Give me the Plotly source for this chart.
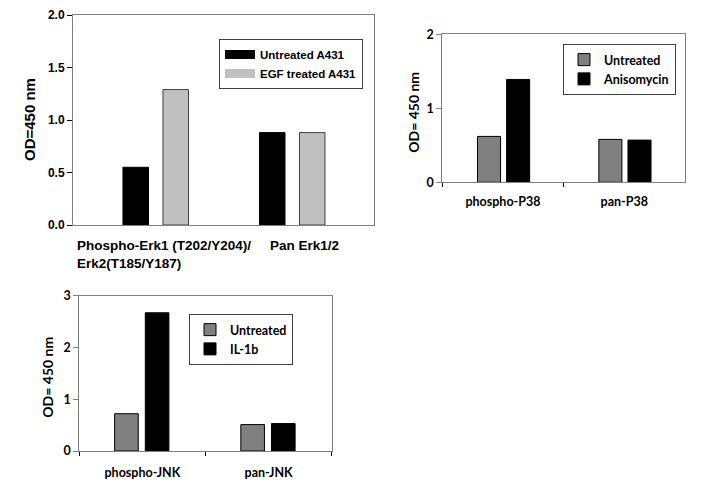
import plotly.graph_objects as go

W, H = 701, 495

# Erk1/2 panel
erk_cats = ["Phospho-Erk1", "Pan Erk1/2"]
erk_labels = ["Phospho-Erk1 (T202/Y204)/<br>Erk2(T185/Y187)", "Pan Erk1/2"]
erk_untreated = [0.55, 0.88]
erk_egf = [1.29, 0.88]

# P38 panel
p38_cats = ["phospho-P38", "pan-P38"]
p38_untreated = [0.62, 0.58]
p38_aniso = [1.39, 0.57]

# JNK panel
jnk_cats = ["phospho-JNK", "pan-JNK"]
jnk_untreated = [0.72, 0.51]
jnk_il1b = [2.67, 0.53]

ARIAL = "Liberation Sans"
CALIBRI = "Lato"


def px_x(v):
    return v / W


def px_y(v):
    return 1 - v / H


fig = go.Figure()

# ---- panel 1 (Arial look) ----
fig.add_trace(go.Bar(x=erk_cats, y=erk_untreated, xaxis="x", yaxis="y",
                     marker=dict(color="black", line=dict(color="black", width=1)),
                     width=0.187, offset=-0.242, showlegend=False))
fig.add_trace(go.Bar(x=erk_cats, y=erk_egf, xaxis="x", yaxis="y",
                     marker=dict(color="#c0c0c0", line=dict(color="#404040", width=1)),
                     width=0.187, offset=0.051, showlegend=False))
# wide swatches for the legend, like the original
fig.add_trace(go.Scatter(x=[None], y=[None], mode="lines", name="Untreated A431",
                         line=dict(color="black", width=9), legend="legend"))
fig.add_trace(go.Scatter(x=[None], y=[None], mode="lines", name="EGF treated A431",
                         line=dict(color="#c0c0c0", width=9), legend="legend"))

# ---- panel 2 ----
fig.add_trace(go.Bar(x=p38_cats, y=p38_untreated, xaxis="x2", yaxis="y2", name="Untreated",
                     marker=dict(color="#808080", line=dict(color="black", width=1)),
                     width=0.19, offset=-0.21, legend="legend2"))
fig.add_trace(go.Bar(x=p38_cats, y=p38_aniso, xaxis="x2", yaxis="y2", name="Anisomycin",
                     marker=dict(color="black", line=dict(color="black", width=1)),
                     width=0.19, offset=0.03, legend="legend2"))

# ---- panel 3 ----
fig.add_trace(go.Bar(x=jnk_cats, y=jnk_untreated, xaxis="x3", yaxis="y3", name="Untreated",
                     marker=dict(color="#808080", line=dict(color="black", width=1)),
                     width=0.187, offset=-0.22, legend="legend3"))
fig.add_trace(go.Bar(x=jnk_cats, y=jnk_il1b, xaxis="x3", yaxis="y3", name="IL-1b",
                     marker=dict(color="black", line=dict(color="black", width=1)),
                     width=0.187, offset=0.023, legend="legend3"))

axcol = "#808080"
f1 = dict(family=ARIAL, size=12, color="black", weight="bold")
f2 = dict(family=CALIBRI, size=12.5, color="black", weight="bold")

fig.update_layout(
    width=W, height=H,
    margin=dict(l=0, r=0, t=0, b=0, autoexpand=False),
    paper_bgcolor="white", plot_bgcolor="white",
    barmode="group",
    xaxis=dict(domain=[px_x(73), px_x(374)], range=[-0.608, 1.597],
               showline=True, linecolor=axcol, mirror=True, ticks="",
               showticklabels=False, showgrid=False, zeroline=False, anchor="y"),
    yaxis=dict(domain=[px_y(225), px_y(15)], range=[0, 2], dtick=0.5, tickformat=".1f",
               showline=True, linecolor=axcol, mirror=True, ticks="outside", ticklen=5,
               tickcolor="black", tickfont=f1, showgrid=False, zeroline=False, anchor="x"),
    xaxis2=dict(domain=[px_x(442.3), px_x(685)], range=[-0.5, 1.5],
                showline=True, linecolor=axcol, mirror=True, ticks="outside", ticklen=4,
                tickson="boundaries", tickcolor="black", tickfont=f2, ticklabelstandoff=8,
                showgrid=False, zeroline=False, anchor="y2"),
    yaxis2=dict(domain=[px_y(182.3), px_y(34.3)], range=[0, 2], dtick=1,
                showline=True, linecolor=axcol, mirror=True, ticks="outside", ticklen=5,
                tickcolor=axcol, tickfont=f2, showgrid=False, zeroline=False, anchor="x2"),
    xaxis3=dict(domain=[px_x(79.3), px_x(331.7)], range=[-0.5, 1.5],
                showline=True, linecolor=axcol, mirror=True, ticks="outside", ticklen=4,
                tickson="boundaries", tickcolor="black", tickfont=f2, ticklabelstandoff=10,
                showgrid=False, zeroline=False, anchor="y3"),
    yaxis3=dict(domain=[px_y(451), px_y(295.7)], range=[0, 3], dtick=1,
                showline=True, linecolor=axcol, mirror=True, ticks="outside", ticklen=5,
                tickcolor=axcol, tickfont=f2, showgrid=False, zeroline=False, anchor="x3"),
    legend=dict(x=px_x(219), y=px_y(39), xanchor="left", yanchor="top",
                bordercolor="#404040", borderwidth=1, bgcolor="white",
                font=dict(family=ARIAL, size=11.5, color="black", weight="bold"),
                itemwidth=30, tracegroupgap=0),
    legend2=dict(x=px_x(676), y=px_y(44), xanchor="right", yanchor="top",
                 bordercolor="#404040", borderwidth=1, bgcolor="white",
                 font=f2, itemwidth=30, tracegroupgap=0),
    legend3=dict(x=px_x(293), y=px_y(314), xanchor="right", yanchor="top",
                 bordercolor="#404040", borderwidth=1, bgcolor="white",
                 font=f2, itemwidth=30, tracegroupgap=0),
)

annotations = [
    # y titles
    dict(text="OD=450 nm", x=px_x(29), y=px_y(120), textangle=-90,
         font=dict(family=ARIAL, size=15, color="black", weight="bold")),
    dict(text="OD= 450 nm", x=px_x(413.3), y=px_y(112.5), textangle=-90,
         font=dict(family=CALIBRI, size=14, color="black", weight="bold")),
    dict(text="OD= 450 nm", x=px_x(46.7), y=px_y(377), textangle=-90,
         font=dict(family=CALIBRI, size=14, color="black", weight="bold")),
    # panel 1 category labels, left aligned like the original
    dict(text=erk_labels[0], x=px_x(75), y=px_y(236), xanchor="left", yanchor="top",
         align="left", font=dict(family=ARIAL, size=13.5, color="black", weight="bold")),
    dict(text=erk_labels[1], x=px_x(268), y=px_y(236), xanchor="left", yanchor="top",
         align="left", font=dict(family=ARIAL, size=13.5, color="black", weight="bold")),
]
for a in annotations:
    a.setdefault("xref", "paper")
    a.setdefault("yref", "paper")
    a.setdefault("xanchor", "center")
    a.setdefault("yanchor", "middle")
    a.setdefault("showarrow", False)
fig.update_layout(annotations=annotations)

# the page margin would shift the figure inside the window
fig.write_html("out.html", config={"displayModeBar": False},
               post_script="document.body.style.margin='0';document.body.style.overflow='hidden';")
